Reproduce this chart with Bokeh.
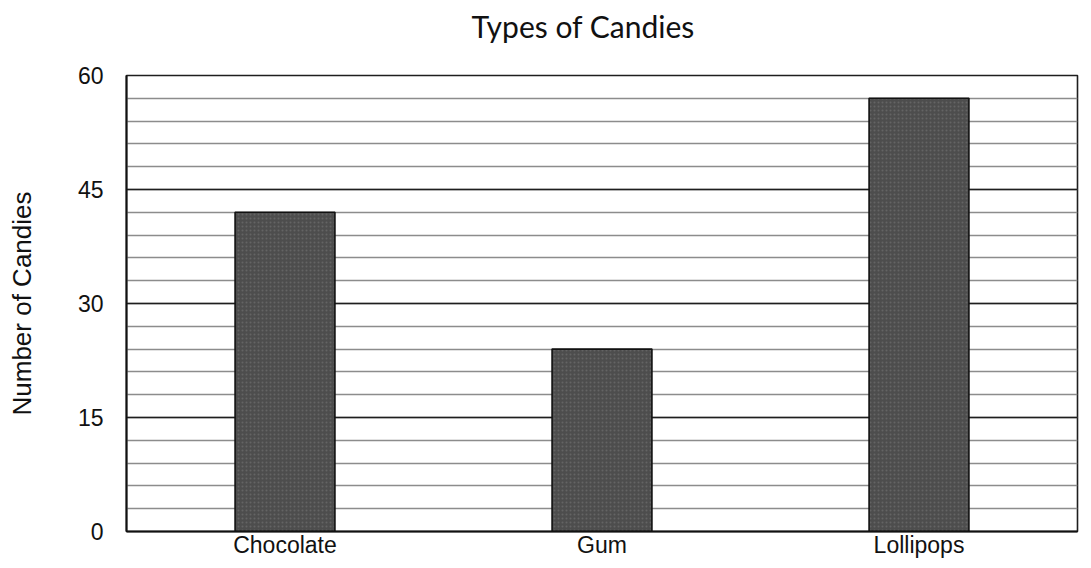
from bokeh.plotting import figure
from bokeh.models import Range1d, FixedTicker, Title
from bokeh.embed import file_html
from bokeh.resources import INLINE

categories = ["Chocolate", "Gum", "Lollipops"]
counts = [42, 24, 57]
y_ticks = [0, 15, 30, 45, 60]
y_minor = list(range(0, 61, 3))
title_text = "Types of Candies"
y_title = "Number of Candies"

p = figure(
    x_range=categories,
    y_range=Range1d(0, 60),
    width=1083,
    height=560,
    output_backend="svg",
    toolbar_location=None,
    min_border_left=126,
    min_border_right=6,
    min_border_top=75,
    min_border_bottom=0,
)
p.x_range.range_padding = 0

p.title = Title(text=title_text, align="left", offset=345,
                vertical_align="bottom",
                padding=dict(left=0, right=0, top=0, bottom=32),
                text_font="Lato", text_font_size="30px",
                text_font_style="normal", text_color="#111111", standoff=0)

p.vbar(x=categories, top=counts, width=0.315, fill_color="#4d4d4d",
       hatch_pattern="dot", hatch_color="#6a6a6a", hatch_scale=4,
       hatch_weight=1.5, hatch_alpha=0.8,
       line_color="#111111", line_width=1.6)

# grid
p.xgrid.grid_line_color = None
p.ygrid.ticker = FixedTicker(ticks=y_ticks, minor_ticks=y_minor)
p.ygrid.grid_line_color = "#1e1e1e"
p.ygrid.grid_line_width = 1.6
p.ygrid.minor_grid_line_color = "#8c8c8c"
p.ygrid.minor_grid_line_width = 1.3

p.outline_line_color = "#1e1e1e"
p.outline_line_width = 1.6
p.background_fill_color = "white"
p.border_fill_color = "white"

# y axis
p.yaxis.ticker = FixedTicker(ticks=y_ticks)
p.yaxis.major_tick_out = 0
p.yaxis.major_tick_in = 0
p.yaxis.minor_tick_out = 0
p.yaxis.minor_tick_in = 0
p.yaxis.axis_line_color = "#111111"
p.yaxis.axis_line_width = 2
p.yaxis.major_label_standoff = 23
p.yaxis.major_label_text_font = "Liberation Sans"
p.yaxis.major_label_text_font_size = "23px"
p.yaxis.major_label_text_color = "#111111"
p.yaxis.axis_label = y_title
p.yaxis.axis_label_text_font = "Liberation Sans"
p.yaxis.axis_label_text_font_size = "26px"
p.yaxis.axis_label_text_font_style = "normal"
p.yaxis.axis_label_text_color = "#111111"
p.yaxis.axis_label_standoff = 38

# x axis
p.xaxis.major_tick_out = 0
p.xaxis.major_tick_in = 0
p.xaxis.axis_line_color = "#111111"
p.xaxis.axis_line_width = 2
p.xaxis.major_label_standoff = 0
p.xaxis.major_label_text_font = "Liberation Sans"
p.xaxis.major_label_text_font_size = "23px"
p.xaxis.major_label_text_color = "#111111"

open("out.html", "w").write(file_html(p, INLINE))
